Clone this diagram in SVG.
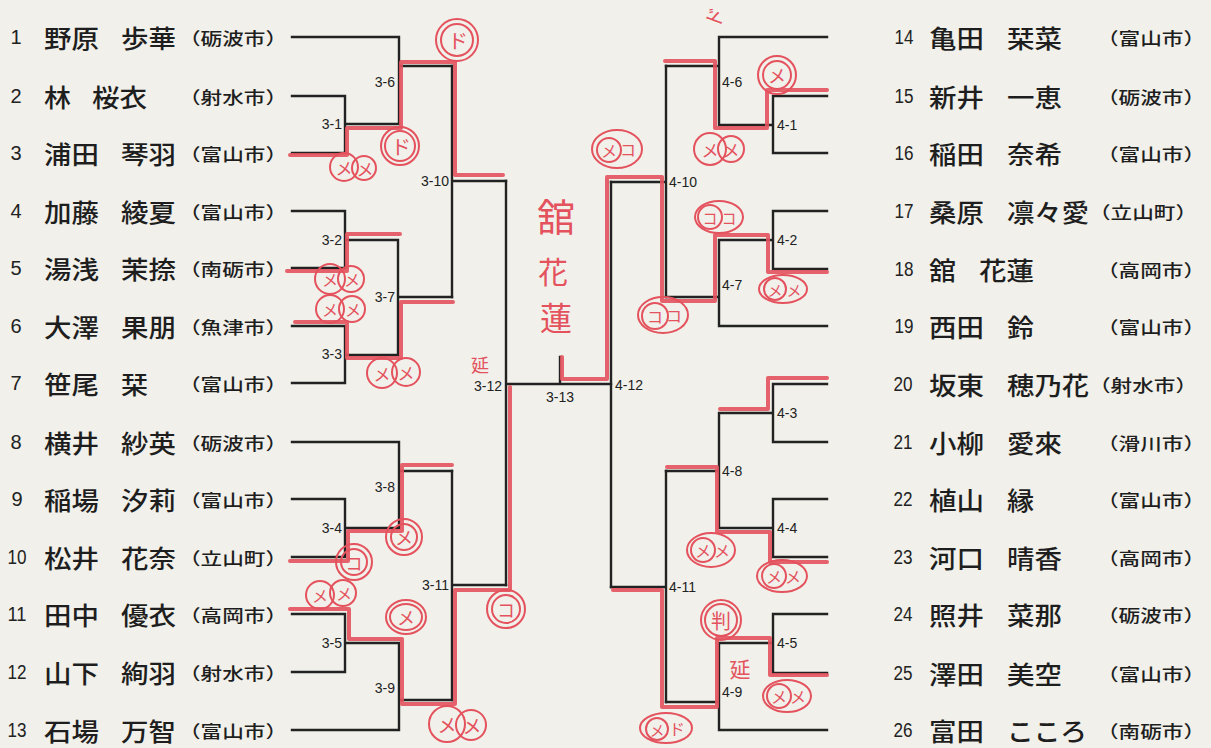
<svg xmlns="http://www.w3.org/2000/svg" width="1211" height="748" viewBox="0 0 1211 748">
<style>
.bg{fill:#f1f0ea}
.ln{fill:none;stroke:#222;stroke-width:2.4;stroke-linecap:square}
.num{font-family:"Liberation Sans",Arial,sans-serif;font-size:20px;fill:#222;text-anchor:middle;dominant-baseline:central}
.nm{font-family:"Noto Sans CJK JP","Noto Sans CJK SC",sans-serif;font-size:25px;font-weight:500;fill:#1e1e1e;dominant-baseline:central}
.ct{font-family:"Noto Sans CJK JP","Noto Sans CJK SC",sans-serif;font-size:17px;font-weight:500;fill:#1e1e1e;dominant-baseline:central}
.lb{font-family:"Liberation Sans",Arial,sans-serif;font-size:14px;fill:#222;dominant-baseline:central}
.le{text-anchor:end}
.rl{fill:none;stroke:#e4525e;stroke-width:4;stroke-linejoin:round;stroke-linecap:round;opacity:0.9}
.rc{fill:none;stroke:#e4525e;stroke-width:2}
.rt{font-family:"Noto Sans CJK JP","Noto Sans CJK SC",sans-serif;fill:#e4525e;text-anchor:middle;dominant-baseline:central}
</style>
<rect class="bg" x="0" y="0" width="1211" height="748"/>

<!-- left participants -->
<g id="p1"><text class="num" x="16" y="37">1</text><text class="nm" x="44" y="37" textLength="55" lengthAdjust="spacingAndGlyphs">野原</text><text class="nm" x="121" y="37" textLength="55" lengthAdjust="spacingAndGlyphs">歩華</text><text class="ct" x="179" y="37" textLength="108" lengthAdjust="spacingAndGlyphs">（砺波市）</text></g>
<g id="p2"><text class="num" x="16" y="96">2</text><text class="nm" x="44" y="96" textLength="27" lengthAdjust="spacingAndGlyphs">林</text><text class="nm" x="92" y="96" textLength="55" lengthAdjust="spacingAndGlyphs">桜衣</text><text class="ct" x="179" y="96" textLength="108" lengthAdjust="spacingAndGlyphs">（射水市）</text></g>
<g id="p3"><text class="num" x="16" y="153">3</text><text class="nm" x="44" y="153" textLength="55" lengthAdjust="spacingAndGlyphs">浦田</text><text class="nm" x="121" y="153" textLength="55" lengthAdjust="spacingAndGlyphs">琴羽</text><text class="ct" x="179" y="153" textLength="108" lengthAdjust="spacingAndGlyphs">（富山市）</text></g>
<g id="p4"><text class="num" x="16" y="211">4</text><text class="nm" x="44" y="211" textLength="55" lengthAdjust="spacingAndGlyphs">加藤</text><text class="nm" x="121" y="211" textLength="55" lengthAdjust="spacingAndGlyphs">綾夏</text><text class="ct" x="179" y="211" textLength="108" lengthAdjust="spacingAndGlyphs">（富山市）</text></g>
<g id="p5"><text class="num" x="16" y="268">5</text><text class="nm" x="44" y="268" textLength="55" lengthAdjust="spacingAndGlyphs">湯浅</text><text class="nm" x="121" y="268" textLength="55" lengthAdjust="spacingAndGlyphs">茉捺</text><text class="ct" x="179" y="268" textLength="108" lengthAdjust="spacingAndGlyphs">（南砺市）</text></g>
<g id="p6"><text class="num" x="16" y="326">6</text><text class="nm" x="44" y="326" textLength="55" lengthAdjust="spacingAndGlyphs">大澤</text><text class="nm" x="121" y="326" textLength="55" lengthAdjust="spacingAndGlyphs">果朋</text><text class="ct" x="179" y="326" textLength="108" lengthAdjust="spacingAndGlyphs">（魚津市）</text></g>
<g id="p7"><text class="num" x="16" y="383">7</text><text class="nm" x="44" y="383" textLength="55" lengthAdjust="spacingAndGlyphs">笹尾</text><text class="nm" x="121" y="383" textLength="27" lengthAdjust="spacingAndGlyphs">栞</text><text class="ct" x="179" y="383" textLength="108" lengthAdjust="spacingAndGlyphs">（富山市）</text></g>
<g id="p8"><text class="num" x="16" y="442">8</text><text class="nm" x="44" y="442" textLength="55" lengthAdjust="spacingAndGlyphs">横井</text><text class="nm" x="121" y="442" textLength="55" lengthAdjust="spacingAndGlyphs">紗英</text><text class="ct" x="179" y="442" textLength="108" lengthAdjust="spacingAndGlyphs">（砺波市）</text></g>
<g id="p9"><text class="num" x="17" y="499">9</text><text class="nm" x="44" y="499" textLength="55" lengthAdjust="spacingAndGlyphs">稲場</text><text class="nm" x="121" y="499" textLength="55" lengthAdjust="spacingAndGlyphs">汐莉</text><text class="ct" x="179" y="499" textLength="108" lengthAdjust="spacingAndGlyphs">（富山市）</text></g>
<g id="p10"><text class="num" x="17" y="557" textLength="19" lengthAdjust="spacingAndGlyphs">10</text><text class="nm" x="44" y="557" textLength="55" lengthAdjust="spacingAndGlyphs">松井</text><text class="nm" x="121" y="557" textLength="55" lengthAdjust="spacingAndGlyphs">花奈</text><text class="ct" x="179" y="557" textLength="108" lengthAdjust="spacingAndGlyphs">（立山町）</text></g>
<g id="p11"><text class="num" x="17" y="614" textLength="19" lengthAdjust="spacingAndGlyphs">11</text><text class="nm" x="44" y="614" textLength="55" lengthAdjust="spacingAndGlyphs">田中</text><text class="nm" x="121" y="614" textLength="55" lengthAdjust="spacingAndGlyphs">優衣</text><text class="ct" x="179" y="614" textLength="108" lengthAdjust="spacingAndGlyphs">（高岡市）</text></g>
<g id="p12"><text class="num" x="17" y="672" textLength="19" lengthAdjust="spacingAndGlyphs">12</text><text class="nm" x="44" y="672" textLength="55" lengthAdjust="spacingAndGlyphs">山下</text><text class="nm" x="121" y="672" textLength="55" lengthAdjust="spacingAndGlyphs">絢羽</text><text class="ct" x="179" y="672" textLength="108" lengthAdjust="spacingAndGlyphs">（射水市）</text></g>
<g id="p13"><text class="num" x="17" y="730" textLength="19" lengthAdjust="spacingAndGlyphs">13</text><text class="nm" x="44" y="730" textLength="55" lengthAdjust="spacingAndGlyphs">石場</text><text class="nm" x="121" y="730" textLength="55" lengthAdjust="spacingAndGlyphs">万智</text><text class="ct" x="179" y="730" textLength="108" lengthAdjust="spacingAndGlyphs">（富山市）</text></g>

<!-- right participants -->
<g id="p14"><text class="num" x="904" y="37" textLength="19" lengthAdjust="spacingAndGlyphs">14</text><text class="nm" x="929" y="37" textLength="55" lengthAdjust="spacingAndGlyphs">亀田</text><text class="nm" x="1007" y="37" textLength="55" lengthAdjust="spacingAndGlyphs">栞菜</text><text class="ct" x="1097" y="37" textLength="108" lengthAdjust="spacingAndGlyphs">（富山市）</text></g>
<g id="p15"><text class="num" x="904" y="96" textLength="19" lengthAdjust="spacingAndGlyphs">15</text><text class="nm" x="929" y="96" textLength="55" lengthAdjust="spacingAndGlyphs">新井</text><text class="nm" x="1007" y="96" textLength="55" lengthAdjust="spacingAndGlyphs">一恵</text><text class="ct" x="1097" y="96" textLength="108" lengthAdjust="spacingAndGlyphs">（砺波市）</text></g>
<g id="p16"><text class="num" x="904" y="153" textLength="19" lengthAdjust="spacingAndGlyphs">16</text><text class="nm" x="929" y="153" textLength="55" lengthAdjust="spacingAndGlyphs">稲田</text><text class="nm" x="1007" y="153" textLength="55" lengthAdjust="spacingAndGlyphs">奈希</text><text class="ct" x="1097" y="153" textLength="108" lengthAdjust="spacingAndGlyphs">（富山市）</text></g>
<g id="p17"><text class="num" x="904" y="211" textLength="19" lengthAdjust="spacingAndGlyphs">17</text><text class="nm" x="929" y="211" textLength="55" lengthAdjust="spacingAndGlyphs">桑原</text><text class="nm" x="1007" y="211" textLength="82" lengthAdjust="spacingAndGlyphs">凛々愛</text><text class="ct" x="1089" y="211" textLength="108" lengthAdjust="spacingAndGlyphs">（立山町）</text></g>
<g id="p18"><text class="num" x="904" y="269" textLength="19" lengthAdjust="spacingAndGlyphs">18</text><text class="nm" x="929" y="269" textLength="27" lengthAdjust="spacingAndGlyphs">舘</text><text class="nm" x="979" y="269" textLength="55" lengthAdjust="spacingAndGlyphs">花蓮</text><text class="ct" x="1097" y="269" textLength="108" lengthAdjust="spacingAndGlyphs">（高岡市）</text></g>
<g id="p19"><text class="num" x="904" y="326" textLength="19" lengthAdjust="spacingAndGlyphs">19</text><text class="nm" x="929" y="326" textLength="55" lengthAdjust="spacingAndGlyphs">西田</text><text class="nm" x="1007" y="326" textLength="27" lengthAdjust="spacingAndGlyphs">鈴</text><text class="ct" x="1097" y="326" textLength="108" lengthAdjust="spacingAndGlyphs">（富山市）</text></g>
<g id="p20"><text class="num" x="903" y="384" textLength="19" lengthAdjust="spacingAndGlyphs">20</text><text class="nm" x="929" y="384" textLength="55" lengthAdjust="spacingAndGlyphs">坂東</text><text class="nm" x="1007" y="384" textLength="82" lengthAdjust="spacingAndGlyphs">穂乃花</text><text class="ct" x="1089" y="384" textLength="108" lengthAdjust="spacingAndGlyphs">（射水市）</text></g>
<g id="p21"><text class="num" x="903" y="442" textLength="19" lengthAdjust="spacingAndGlyphs">21</text><text class="nm" x="929" y="442" textLength="55" lengthAdjust="spacingAndGlyphs">小柳</text><text class="nm" x="1007" y="442" textLength="55" lengthAdjust="spacingAndGlyphs">愛來</text><text class="ct" x="1097" y="442" textLength="108" lengthAdjust="spacingAndGlyphs">（滑川市）</text></g>
<g id="p22"><text class="num" x="903" y="499" textLength="19" lengthAdjust="spacingAndGlyphs">22</text><text class="nm" x="929" y="499" textLength="55" lengthAdjust="spacingAndGlyphs">植山</text><text class="nm" x="1007" y="499" textLength="27" lengthAdjust="spacingAndGlyphs">縁</text><text class="ct" x="1097" y="499" textLength="108" lengthAdjust="spacingAndGlyphs">（富山市）</text></g>
<g id="p23"><text class="num" x="903" y="557" textLength="19" lengthAdjust="spacingAndGlyphs">23</text><text class="nm" x="929" y="557" textLength="55" lengthAdjust="spacingAndGlyphs">河口</text><text class="nm" x="1007" y="557" textLength="55" lengthAdjust="spacingAndGlyphs">晴香</text><text class="ct" x="1097" y="557" textLength="108" lengthAdjust="spacingAndGlyphs">（高岡市）</text></g>
<g id="p24"><text class="num" x="903" y="614" textLength="19" lengthAdjust="spacingAndGlyphs">24</text><text class="nm" x="929" y="614" textLength="55" lengthAdjust="spacingAndGlyphs">照井</text><text class="nm" x="1007" y="614" textLength="55" lengthAdjust="spacingAndGlyphs">菜那</text><text class="ct" x="1097" y="614" textLength="108" lengthAdjust="spacingAndGlyphs">（砺波市）</text></g>
<g id="p25"><text class="num" x="903" y="673" textLength="19" lengthAdjust="spacingAndGlyphs">25</text><text class="nm" x="929" y="673" textLength="55" lengthAdjust="spacingAndGlyphs">澤田</text><text class="nm" x="1007" y="673" textLength="55" lengthAdjust="spacingAndGlyphs">美空</text><text class="ct" x="1097" y="673" textLength="108" lengthAdjust="spacingAndGlyphs">（富山市）</text></g>
<g id="p26"><text class="num" x="903" y="730" textLength="19" lengthAdjust="spacingAndGlyphs">26</text><text class="nm" x="929" y="730" textLength="55" lengthAdjust="spacingAndGlyphs">富田</text><text class="nm" x="1007" y="730" textLength="80" lengthAdjust="spacingAndGlyphs">こころ</text><text class="ct" x="1097" y="730" textLength="108" lengthAdjust="spacingAndGlyphs">（南砺市）</text></g>

<!-- bracket connectors -->
<g id="connectors" class="ln">
<path d="M292,37H399V124M292,96H345V153H292M345,124H399M399,66H452"/>
<path d="M292,211H345V268H292M345,240H398M292,326H345V383H292M345,355H398M398,240V355M398,297H452"/>
<path d="M452,66V297M452,181H506"/>
<path d="M292,442H399V528M292,499H345V557H292M345,528H399M399,471H452"/>
<path d="M292,614H345V672H292M345,643H399M292,730H399V643M399,700H452"/>
<path d="M452,471V700M452,585H506"/>
<path d="M506,181V585M506,384H611M560,357V384"/>
<path d="M827,37H719V125M827,96H773V153H827M773,125H719M719,66H666"/>
<path d="M827,211H773V269H827M773,240H719M827,326H719V240M719,297H666"/>
<path d="M666,66V297M666,182H611"/>
<path d="M827,384H773V442H827M773,413H719M827,499H773V557H827M773,528H719M719,413V528M719,471H666"/>
<path d="M827,614H773V673H827M773,643H719M827,730H719V643M719,702H666"/>
<path d="M666,471V702M666,587H611"/>
<path d="M611,182V587"/>
</g>

<!-- match labels -->
<g id="match-labels">
<text class="lb le" x="342" y="124">3-1</text>
<text class="lb le" x="395" y="82">3-6</text>
<text class="lb le" x="449" y="181">3-10</text>
<text class="lb le" x="342" y="240">3-2</text>
<text class="lb le" x="395" y="297">3-7</text>
<text class="lb le" x="342" y="354">3-3</text>
<text class="lb le" x="502" y="386">3-12</text>
<text class="lb le" x="395" y="487">3-8</text>
<text class="lb le" x="342" y="528">3-4</text>
<text class="lb le" x="449" y="585">3-11</text>
<text class="lb le" x="342" y="643">3-5</text>
<text class="lb le" x="395" y="688">3-9</text>
<text class="lb" x="560" y="397" text-anchor="middle">3-13</text>
<text class="lb" x="722" y="82">4-6</text>
<text class="lb" x="777" y="125">4-1</text>
<text class="lb" x="669" y="182">4-10</text>
<text class="lb" x="777" y="240">4-2</text>
<text class="lb" x="722" y="285">4-7</text>
<text class="lb" x="615" y="385">4-12</text>
<text class="lb" x="777" y="413">4-3</text>
<text class="lb" x="722" y="471">4-8</text>
<text class="lb" x="777" y="528">4-4</text>
<text class="lb" x="669" y="587">4-11</text>
<text class="lb" x="777" y="643">4-5</text>
<text class="lb" x="722" y="692">4-9</text>
</g>

<!-- red handwritten results -->
<g id="red-lines" class="rl">
<path d="M290,155H347V128H401V62H455V175H503"/>
<path d="M287,271H347V234H400"/>
<path d="M295,322H347V358H401V302H453"/>
<path d="M290,561H348V531H402V465H452"/>
<path d="M290,609H349V639H402V704H455V590H510V387"/>
<path d="M827,90H767V128H715V61H665"/>
<path d="M827,272H768V235H715V301H662V177H607V379H562V357"/>
<path d="M827,378H768V409H720"/>
<path d="M827,562H770V532H717V467H667"/>
<path d="M827,675H770V638H717V707H662V590H613"/>
</g>

<g id="red-marks">
<!-- left -->
<g><circle class="rc" cx="344" cy="167" r="14"/><circle class="rc" cx="364" cy="168" r="12"/><text class="rt" x="344" y="167" font-size="17">メ</text><text class="rt" x="365" y="168" font-size="17">メ</text></g>
<g><circle class="rc" cx="400" cy="146" r="19"/><circle class="rc" cx="400" cy="146" r="15"/><text class="rt" x="401" y="146" font-size="20">ド</text></g>
<g><circle class="rc" cx="457" cy="40" r="21"/><circle class="rc" cx="457" cy="40" r="16"/><text class="rt" x="458" y="40" font-size="20">ド</text></g>
<g><circle class="rc" cx="330" cy="279" r="15"/><circle class="rc" cx="351" cy="279" r="13"/><text class="rt" x="330" y="279" font-size="16">メ</text><text class="rt" x="352" y="279" font-size="16">メ</text></g>
<g><circle class="rc" cx="330" cy="309" r="14"/><circle class="rc" cx="352" cy="309" r="13"/><text class="rt" x="330" y="309" font-size="16">メ</text><text class="rt" x="353" y="309" font-size="16">メ</text></g>
<g><circle class="rc" cx="382" cy="373" r="15"/><circle class="rc" cx="406" cy="372" r="14"/><text class="rt" x="382" y="373" font-size="17">メ</text><text class="rt" x="406" y="372" font-size="17">メ</text></g>
<text class="rt" x="480" y="364" font-size="18">延</text>
<g><circle class="rc" cx="404" cy="537" r="18"/><circle class="rc" cx="404" cy="537" r="13"/><text class="rt" x="404" y="537" font-size="18">メ</text></g>
<g><circle class="rc" cx="354" cy="562" r="18"/><circle class="rc" cx="354" cy="562" r="13"/><text class="rt" x="354" y="562" font-size="17">コ</text></g>
<g><circle class="rc" cx="320" cy="595" r="14"/><circle class="rc" cx="343" cy="593" r="13"/><text class="rt" x="320" y="595" font-size="16">メ</text><text class="rt" x="344" y="593" font-size="16">メ</text></g>
<g><ellipse class="rc" cx="406" cy="617" rx="20" ry="17"/><ellipse class="rc" cx="406" cy="617" rx="16" ry="13"/><text class="rt" x="406" y="617" font-size="18">メ</text></g>
<g><circle class="rc" cx="506" cy="609" r="19"/><circle class="rc" cx="506" cy="609" r="14"/><text class="rt" x="506" y="609" font-size="18">コ</text></g>
<g><circle class="rc" cx="447" cy="724" r="18"/><circle class="rc" cx="471" cy="725" r="15"/><text class="rt" x="447" y="724" font-size="19">メ</text><text class="rt" x="472" y="725" font-size="19">メ</text></g>
<!-- right -->
<text class="rt" x="714" y="17" font-size="20" transform="rotate(-70 714 17)">ド</text>
<g><circle class="rc" cx="777" cy="75" r="19"/><circle class="rc" cx="777" cy="75" r="14"/><text class="rt" x="777" y="75" font-size="18">メ</text></g>
<g><circle class="rc" cx="710" cy="149" r="16"/><circle class="rc" cx="731" cy="149" r="13"/><text class="rt" x="710" y="149" font-size="17">メ</text><text class="rt" x="731" y="149" font-size="17">メ</text></g>
<g><ellipse class="rc" cx="617" cy="149" rx="25" ry="19"/><circle class="rc" cx="609" cy="150" r="12"/><text class="rt" x="609" y="150" font-size="16">メ</text><text class="rt" x="628" y="149" font-size="16">コ</text></g>
<g><ellipse class="rc" cx="719" cy="217" rx="24" ry="16"/><circle class="rc" cx="710" cy="217" r="12"/><text class="rt" x="710" y="217" font-size="15">コ</text><text class="rt" x="729" y="217" font-size="15">コ</text></g>
<g><ellipse class="rc" cx="663" cy="315" rx="25" ry="18"/><circle class="rc" cx="655" cy="316" r="13"/><text class="rt" x="655" y="316" font-size="16">コ</text><text class="rt" x="674" y="315" font-size="16">コ</text></g>
<g><ellipse class="rc" cx="783" cy="289" rx="24" ry="14"/><circle class="rc" cx="775" cy="289" r="11"/><text class="rt" x="775" y="289" font-size="15">メ</text><text class="rt" x="794" y="289" font-size="15">メ</text></g>
<g><ellipse class="rc" cx="711" cy="550" rx="24" ry="17"/><circle class="rc" cx="703" cy="550" r="12"/><text class="rt" x="703" y="550" font-size="16">メ</text><text class="rt" x="722" y="550" font-size="16">メ</text></g>
<g><ellipse class="rc" cx="782" cy="576" rx="25" ry="16"/><circle class="rc" cx="774" cy="576" r="12"/><text class="rt" x="774" y="576" font-size="16">メ</text><text class="rt" x="793" y="576" font-size="16">メ</text></g>
<g><circle class="rc" cx="721" cy="620" r="20"/><circle class="rc" cx="721" cy="620" r="16"/><text class="rt" x="721" y="620" font-size="20">判</text></g>
<text class="rt" x="740" y="668" font-size="21">延</text>
<g><ellipse class="rc" cx="787" cy="696" rx="24" ry="16"/><circle class="rc" cx="779" cy="696" r="12"/><text class="rt" x="779" y="696" font-size="16">メ</text><text class="rt" x="798" y="696" font-size="16">メ</text></g>
<g><ellipse class="rc" cx="666" cy="728" rx="26" ry="15"/><circle class="rc" cx="657" cy="729" r="11"/><text class="rt" x="657" y="729" font-size="15">メ</text><text class="rt" x="677" y="728" font-size="16">ド</text></g>
<!-- winner -->
<g id="winner"><text class="rt" x="556" y="214" font-size="38">舘</text><text class="rt" x="553" y="270" font-size="30">花</text><text class="rt" x="556" y="316" font-size="32">蓮</text></g>
</g>
</svg>
